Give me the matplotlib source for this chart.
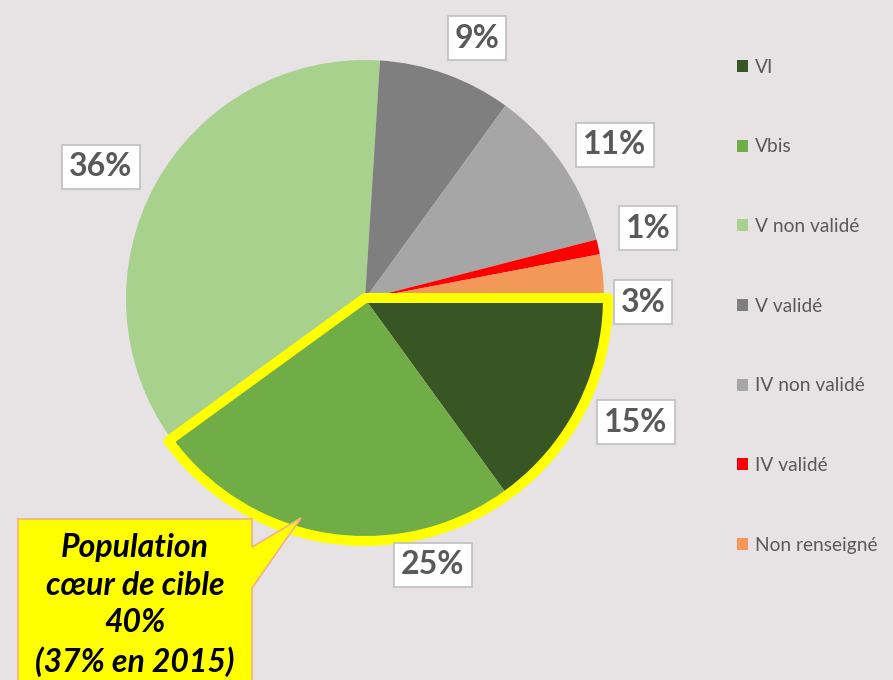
import matplotlib.pyplot as plt
from matplotlib.patches import Wedge, Polygon

# data
categories = ["VI", "Vbis", "V non validé", "V validé", "IV non validé", "IV validé", "Non renseigné"]
shares = [15, 25, 36, 9, 11, 1, 3]
colors = ["#375623", "#70AD47", "#A9D18E", "#7F7F7F", "#A6A6A6", "#FF0000", "#F4985A"]
pct_labels = ["15%", "25%", "36%", "9%", "11%", "1%", "3%"]
callout_text = "Population\ncœur de cible\n40%\n(37% en 2015)"

# layout in pixels (y from top)
W, H = 893, 680
cx, cy, r = 365, 299, 239
label_xy = [(636, 422), (433, 565), (101, 167), (477, 38), (615, 145), (648, 228), (643, 302)]

bg = "#E7E3E4"
plt.rcParams['font.family'] = ['Lato', 'DejaVu Sans']

fig = plt.figure(figsize=(W / 100, H / 100), dpi=100)
fig.patch.set_facecolor(bg)
ax = fig.add_axes([0, 0, 1, 1])
ax.set_facecolor(bg)

wedges, _ = ax.pie(shares, colors=colors, startangle=0, counterclock=False,
                   center=(cx, H - cy), radius=r, frame=True)
ax.set_xlim(0, W)
ax.set_ylim(0, H)
ax.set_aspect('equal')
ax.axis('off')

# highlight VI + Vbis
core_angle = (shares[0] + shares[1]) / sum(shares) * 360
hl = Wedge((cx, H - cy + 1), r + 4, -core_angle, 0, fill=False, edgecolor="#FFFF00",
           linewidth=7.2, joinstyle='round', zorder=5)
ax.add_patch(hl)

for (x, y), txt in zip(label_xy, pct_labels):
    ax.text(x, H - y, txt, ha='center', va='center', fontsize=23, fontweight='bold',
            color="#595959", zorder=6,
            bbox=dict(boxstyle='square,pad=0.22', facecolor='white', edgecolor='#BFBFBF', linewidth=1.2))

# callout
callout = Polygon([(18, H - 519), (252, H - 519), (252, H - 547), (301, H - 518),
                   (252, H - 588), (252, H - 690), (18, H - 690)],
                  closed=True, facecolor="#FFFF00", edgecolor="#F4B183", linewidth=1.2, zorder=7)
ax.add_patch(callout)
ax.text(135, H - 605, callout_text, ha='center', va='center', fontsize=23,
        fontweight='bold', fontstyle='italic', color='black', linespacing=1.35, zorder=8)

leg = ax.legend(wedges, categories, loc='upper left', bbox_to_anchor=(729 / W, 1 - 51 / H),
                frameon=False, fontsize=13.8, labelcolor="#595959", handlelength=0.6,
                handleheight=0.6, handletextpad=0.35, labelspacing=3.27, borderaxespad=0)

fig.savefig("out.png", dpi=100, facecolor=bg)
